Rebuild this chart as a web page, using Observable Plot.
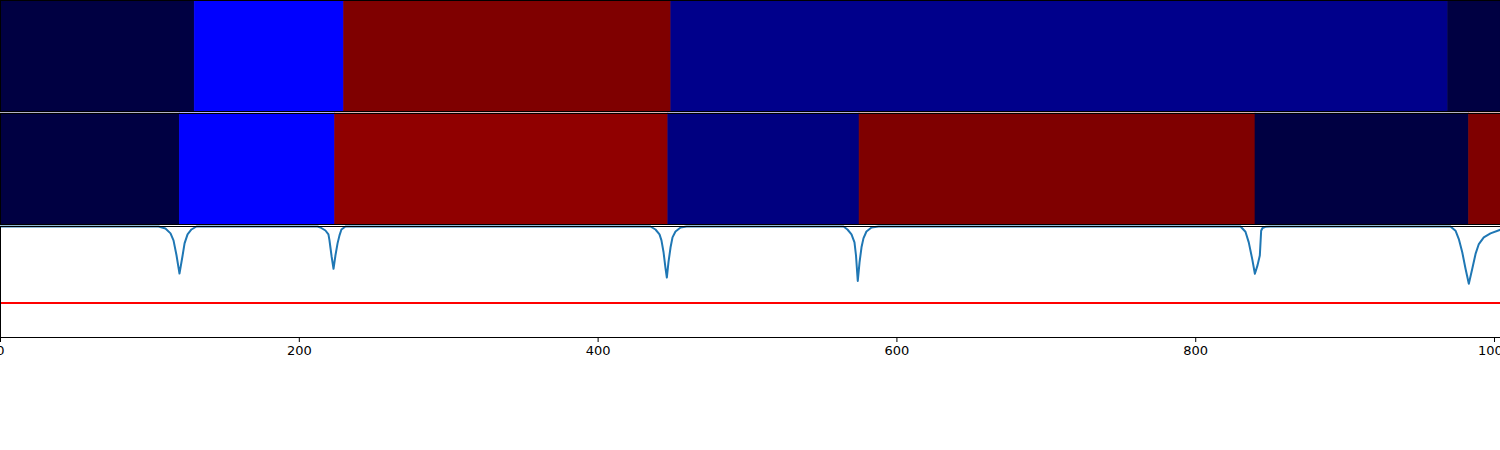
<!DOCTYPE html>
<html>
<head>
<meta charset="utf-8">
<script src="https://cdn.jsdelivr.net/npm/d3@7"></script>
<script src="https://cdn.jsdelivr.net/npm/@observablehq/plot@0.6"></script>
<style>
  html, body { margin: 0; padding: 0; background: #fff; }
  #chart { width: 1500px; height: 450px; overflow: hidden; }
</style>
</head>
<body>
<div id="chart"></div>
<script>
// ---- data ----
const xMax = 1004;
const xTicks = [0, 200, 400, 600, 800, 1000];

// top panel: true segmentation
const topStart = [0, 130, 230, 449, 969];
const topEnd   = [130, 230, 449, 969, 1004];
const topState = ["A", "B", "C", "D", "A"];

// middle panel: detected segmentation
const midStart = [0, 120, 224, 447, 575, 840, 983];
const midEnd   = [120, 224, 447, 575, 840, 983, 1004];
const midState = ["A", "B", "E", "F", "C", "A", "C"];

const stateNames  = ["A", "B", "C", "D", "E", "F"];
const stateColors = ["#000042", "#0000ff", "#7f0000", "#00008b", "#900000", "#000080"];

// bottom panel: score curve and threshold
const scoreX = [
  0, 105.8, 110.4, 113.8, 115.8, 117.8, 119.8, 121.8, 123.2, 125.2, 127.8, 131.2,
  212.2, 214.2, 217.5, 219.5, 220.2, 220.9, 221.6, 222.9, 224.2, 225.6, 226.9, 228.2, 230.9,
  435, 438.4, 441.1, 442.4, 443.8, 445.1, 446, 447.1, 448.5, 449.8, 451.8, 455.2, 459.2,
  564.3, 566.9, 569.6, 571.6, 572.6, 573.8, 575, 576.3, 577.6, 579.6, 583, 587.7,
  827.3, 830, 833.3, 835.5, 837.8, 839.6, 841.4, 842.9, 843.8, 844.7, 846.7, 850,
  970.5, 973.9, 976.1, 978.4, 980.6, 982.8, 985.1, 987.3, 989.5, 992.8, 997.3, 1004
];
const scoreY = [
  1.0, 1.0, 0.982, 0.938, 0.875, 0.741, 0.576, 0.732, 0.848, 0.929, 0.973, 1.0,
  1.0, 0.991, 0.964, 0.929, 0.875, 0.804, 0.732, 0.619, 0.741, 0.848, 0.92, 0.973, 1.0,
  1.0, 0.973, 0.929, 0.875, 0.768, 0.625, 0.54, 0.679, 0.813, 0.902, 0.955, 0.991, 1.0,
  1.0, 0.973, 0.929, 0.857, 0.741, 0.509, 0.679, 0.813, 0.893, 0.955, 0.991, 1.0,
  1.0, 1.0, 0.953, 0.857, 0.708, 0.574, 0.652, 0.738, 0.962, 0.987, 0.997, 1.0,
  1.0, 0.962, 0.887, 0.768, 0.619, 0.485, 0.619, 0.753, 0.842, 0.902, 0.938, 0.971
];
const threshold = 0.31;

// ---- tables ----
const topSegs = topStart.map((s, i) => ({start: s, end: topEnd[i], state: topState[i], panel: "top"}));
const midSegs = midStart.map((s, i) => ({start: s, end: midEnd[i], state: midState[i], panel: "mid"}));
const score = scoreX.map((x, i) => ({x, y: scoreY[i], panel: "bot"}));
const thr = [{y: threshold, panel: "bot"}];

const chart = Plot.plot({
  width: 1500,
  height: 450,
  marginLeft: 0,
  marginRight: 0,
  marginTop: 0,
  marginBottom: 112,
  style: {fontFamily: "DejaVu Sans", fontSize: "13px", color: "black", background: "white"},
  x: {domain: [0, xMax], ticks: xTicks, tickSize: 5, tickPadding: 3, label: null, tickFormat: d3.format("d")},
  y: {domain: [0, 1], axis: null},
  fy: {domain: ["top", "mid", "bot"], paddingInner: 0.015, paddingOuter: 0, axis: null, label: null},
  color: {type: "ordinal", domain: stateNames, range: stateColors},
  marks: [
    Plot.rect(topSegs, {x1: "start", x2: "end", fy: "panel", fill: "state", stroke: "state", strokeWidth: 0.6}),
    Plot.rect(midSegs, {x1: "start", x2: "end", fy: "panel", fill: "state", stroke: "state", strokeWidth: 0.6}),
    Plot.ruleY(thr, {y: "y", fy: "panel", stroke: "red", strokeWidth: 2}),
    Plot.line(score, {x: "x", y: "y", fy: "panel", stroke: "#1f77b4", strokeWidth: 2}),
    Plot.frame({stroke: "black", strokeWidth: 1})
  ]
});
document.getElementById("chart").appendChild(chart);
</script>
</body>
</html>
